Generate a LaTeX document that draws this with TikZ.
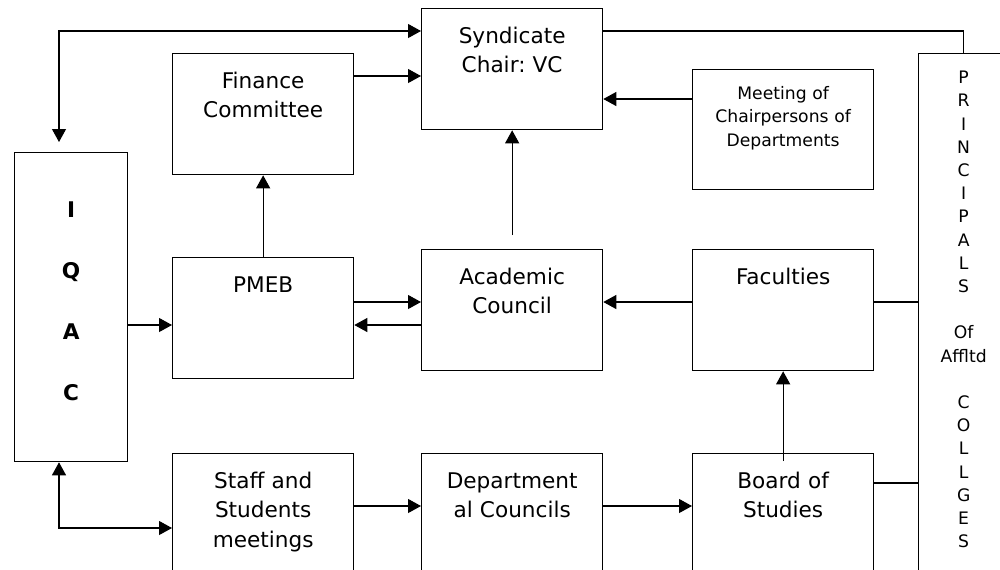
\documentclass[tikz,border=0pt]{standalone}
\usepackage{fontspec}
\setmainfont{DejaVu Sans}
\usetikzlibrary{arrows.meta}
\frenchspacing
\newcommand{\boxfont}{\fontsize{10.8}{14.6}\selectfont}
\newcommand{\smallboxfont}{\fontsize{8.6}{11.6}\selectfont}
\tikzstyle{office}=[draw,line width=0.65pt,inner sep=0pt,anchor=north west,align=center,text width=90.5pt,text height=17.5pt,text depth=43pt,font=\boxfont]
\tikzstyle{low office}=[office,text depth=52.5pt]
\tikzstyle{edge}=[draw,line width=0.55pt]
\tikzstyle{flow}=[edge,-{Triangle[length=6.5pt,width=7pt]}]
\tikzstyle{both flow}=[edge,{Triangle[length=6.5pt,width=7pt]}-{Triangle[length=6.5pt,width=7pt]}]
\begin{document}
\begin{tikzpicture}[x=0.5pt,y=-0.5pt]
    \clip (0,0) rectangle (1000,569);
    % Upper and middle rows of bodies
    \foreach \pos/\name/\txt in {{(172,53)/fin/{Finance\\Committee}}, {(421,8)/synd/{Syndicate\\Chair: VC}},
        {(172,257)/pmeb/PMEB}, {(421,249)/acad/{Academic\\Council}}, {(692,249)/fac/Faculties}}
        \node[office] (\name) at \pos {\txt};
    % Lower row, running off the page
    \foreach \pos/\name/\txt in {{(172,453)/staff/{Staff and\\Students\\meetings}}, {(421,453)/dept/{Department\\al Councils}},
        {(692,453)/bos/{Board of\\Studies}}}
        \node[low office] (\name) at \pos {\txt};
    \node[office,text height=15pt,text depth=45pt,font=\smallboxfont] (meet) at (692,69) {Meeting of\\Chairpersons of\\Departments};
    \node[office,text width=56.5pt,text height=32.3pt,text depth=122.2pt,font=\bfseries\fontsize{10.8}{30.5}\selectfont] (iqac) at (14,152) {I\\Q\\A\\C};
    \node[office,text width=45pt,text height=15pt,text depth=255pt,font=\smallboxfont] (prin) at (918,53)
        {P\\R\\I\\N\\C\\I\\P\\A\\L\\S\\[11.6pt]Of\\Affltd\\[11.6pt]C\\O\\L\\L\\G\\E\\S};

    % Helper points on the box sides
    \coordinate (f1) at ([yshift=-11.5pt]fin.north east);
    \coordinate (s1) at ([yshift=-11.5pt]synd.north east);
    \coordinate (m1) at ([yshift=-15pt]meet.north west);
    \coordinate (p1) at ([yshift=-34pt]pmeb.north west);
    \coordinate (p2) at ([yshift=-22.5pt]pmeb.north east);
    \coordinate (a1) at ([yshift=-26.5pt]fac.north west);
    \coordinate (b1) at ([yshift=-15pt]bos.north east);
    \coordinate (s2) at ([yshift=-26.5pt]staff.north east);
    \coordinate (s3) at ([yshift=-37.5pt]staff.north west);

    % Connect the bodies
    \path[both flow] ([xshift=22.5pt,yshift=5pt]iqac.north west) |- ([yshift=-11.5pt]synd.north west);
    \path[both flow] ([xshift=22.5pt]iqac.south west) |- (s3);
    \path[flow] (f1) -- (f1 -| synd.west);
    \path[flow] (pmeb.north) -- (fin.south);
    \path[flow] (m1) -- (m1 -| synd.east);
    \path[flow,shorten <=7pt] (acad.north) -- (synd.south);
    \path[edge] (s1) -| (prin.north);
    \path[flow] (p1 -| iqac.east) -- (p1);
    \path[flow] (p2) -- (p2 -| acad.west);
    \path[flow] (p1 -| acad.west) -- (p1 -| pmeb.east);
    \path[flow] (a1) -- (a1 -| acad.east);
    \path[edge] (a1 -| fac.east) -- (a1 -| prin.west);
    \path[flow] ([yshift=-4pt]bos.north) -- (fac.south);
    \path[edge] (b1) -- (b1 -| prin.west);
    \path[flow] (s2) -- (s2 -| dept.west);
    \path[flow] (s2 -| dept.east) -- (s2 -| bos.west);
\end{tikzpicture}
\end{document}
